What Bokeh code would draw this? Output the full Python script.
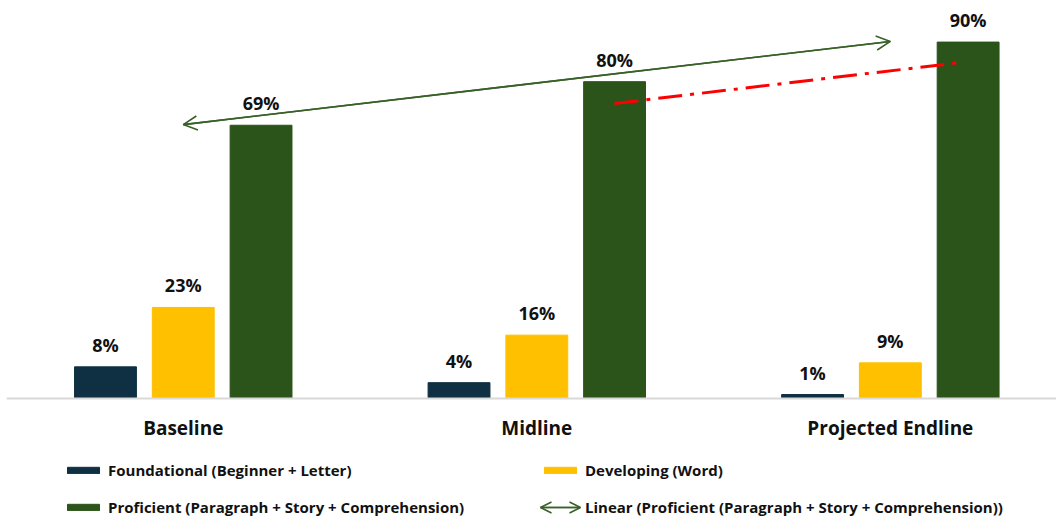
import numpy as np
from bokeh.plotting import figure
from bokeh.models import (Range1d, Legend, LegendItem, Arrow, OpenHead,
                          ColumnDataSource, LabelSet, Span)
from bokeh.core.properties import value
from bokeh.embed import file_html
from bokeh.resources import INLINE

categories = ["Baseline", "Midline", "Projected Endline"]
foundational = [8, 4, 1]
developing = [23, 16, 9]
proficient = [69, 80, 90]
series_names = ["Foundational (Beginner + Letter)", "Developing (Word)",
                "Proficient (Paragraph + Story + Comprehension)"]
trend_name = "Linear (Proficient (Paragraph + Story + Comprehension))"
# hand-drawn red projection line (start at Midline, end at Projected Endline)
projection_values = [74.5, 84.8]

FONT = "Open Sans"
colors = ["#0f3042", "#ffc000", "#2a5419"]
trend_color = "#386129"

xs = np.arange(1, len(categories) + 1)
offsets = [-0.22, 0.0, 0.22]
bar_w = 0.175

p = figure(width=1056, height=519, x_range=Range1d(0.5, 3.47), y_range=Range1d(-30.55, 100.5),
           output_backend="svg", toolbar_location=None, y_axis_location=None,
           x_axis_location=None,
           min_border_left=6, min_border_right=0, min_border_top=0, min_border_bottom=0)
p.grid.visible = False
p.outline_line_color = None
p.background_fill_color = "white"

# category axis line
p.add_layout(Span(location=0, dimension="width", line_color="#d9d9d9", line_width=2))

renderers = []
for vals, off, col in zip([foundational, developing, proficient], offsets, colors):
    src = ColumnDataSource(dict(x=xs + off, top=vals, lab=[f"{v}%" for v in vals]))
    r = p.vbar(x="x", top="top", width=bar_w, source=src, fill_color=col, line_color=col)
    renderers.append(r)
    p.add_layout(LabelSet(x="x", y="top", text="lab", source=src, text_align="center",
                          text_baseline="bottom", y_offset=10, text_font=value(FONT),
                          text_font_style="bold", text_font_size="18px", text_color="#111111"))

# category labels under the axis line
p.text(x=xs, y=[0] * len(xs), text=categories, text_align="center", text_baseline="middle",
       y_offset=29, text_font=value(FONT), text_font_style="bold", text_font_size="19px",
       text_color="#111111")

slope, intercept = np.polyfit(xs, proficient, 1)
tx = np.array([xs[0], xs[-1]], dtype=float)
ty = slope * tx + intercept
tr = p.line(tx, ty, line_color=trend_color, line_width=1.6)
p.add_layout(Arrow(x_start=tx[0], y_start=ty[0], x_end=tx[-1], y_end=ty[-1],
                   line_color=trend_color, line_width=1.6,
                   start=OpenHead(size=14, line_color=trend_color, line_width=1.6),
                   end=OpenHead(size=14, line_color=trend_color, line_width=1.6)))

proj_x = [xs[1] + offsets[2], xs[2] + offsets[2] - 0.025]
p.line(proj_x, projection_values, line_color="#ff0000", line_width=3, line_dash="24 8 4 8")

legend = Legend(items=[LegendItem(label=series_names[0], renderers=[renderers[0]]),
                       LegendItem(label=series_names[2], renderers=[renderers[2]]),
                       LegendItem(label=series_names[1], renderers=[renderers[1]]),
                       LegendItem(label=trend_name, renderers=[tr])],
                ncols=2, location=(57, 2), glyph_width=40, glyph_height=8,
                label_standoff=5, label_width=415, label_height=20, spacing=17,
                padding=0, margin=0, border_line_color=None, background_fill_alpha=0,
                label_text_font=FONT, label_text_font_style="bold",
                label_text_font_size="15px", label_text_color="#111111")
p.add_layout(legend, "center")

# arrowheads on the trendline legend swatch
p.add_layout(Arrow(x_start=534, y_start=12, x_end=574, y_end=12,
                   start_units="screen", end_units="screen",
                   line_color=trend_color, line_width=1.6,
                   start=OpenHead(size=11, line_color=trend_color, line_width=1.6),
                   end=OpenHead(size=11, line_color=trend_color, line_width=1.6)))

open("out.html", "w").write(file_html(p, INLINE))
